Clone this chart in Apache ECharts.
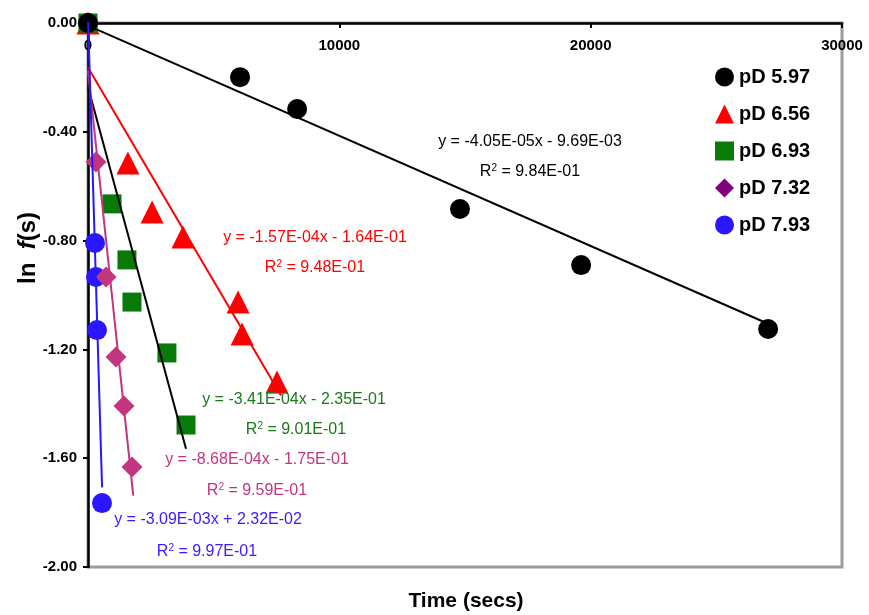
<!DOCTYPE html>
<html>
<head>
<meta charset="utf-8">
<script src="https://cdn.jsdelivr.net/npm/echarts@6/dist/echarts.min.js"></script>
<style>
  html, body { margin: 0; padding: 0; background: #fff; }
  #chart { width: 869px; height: 615px; }
</style>
</head>
<body>
<div id="chart"></div>
<script>
// Decay of ln f(s) over time at five pD values, with linear fits
const seriesNames = ['pD 5.97', 'pD 6.56', 'pD 6.93', 'pD 7.32', 'pD 7.93'];

// measured points [time (s), ln f(s)]
const pD597 = [[0, 0], [6050, -0.199], [8320, -0.316], [14800, -0.684], [19620, -0.890], [27060, -1.125]];
const pD656 = [[0, 0], [1590, -0.515], [2550, -0.695], [3780, -0.787], [5970, -1.026], [6130, -1.143], [7520, -1.320]];
const pD693 = [[0, 0], [955, -0.665], [1550, -0.871], [1750, -1.026], [3140, -1.213], [3900, -1.478]];
const pD732 = [[0, 0], [318, -0.511], [716, -0.934], [1114, -1.228], [1432, -1.408], [1751, -1.632]];
const pD793 = [[0, 0], [278, -0.809], [318, -0.934], [358, -1.129], [557, -1.765]];

// linear fits y = slope * x + intercept
const fitSlopes = [-4.05e-5, -1.57e-4, -3.41e-4, -8.68e-4, -3.09e-3];
const fitIntercepts = [-9.69e-3, -1.64e-1, -2.35e-1, -1.75e-1, 2.32e-2];
const fitR2 = [0.984, 0.948, 0.901, 0.959, 0.997];
const fitXEnd = [27400, 7680, 3900, 1800, 560];

// axis ticks
const xTicks = [0, 10000, 20000, 30000];
const yTicks = [-2.0, -1.6, -1.2, -0.8, -0.4, 0.0];

const pointSets = [pD597, pD656, pD693, pD732, pD793];
const markerColors = ['#000000', '#ff0000', '#087a08', '#c2357f', '#2a16ff'];
const legendColors = ['#000000', '#ff0000', '#087a08', '#800080', '#2a16ff'];
const fitColors = ['#000000', '#ff0000', '#000000', '#c2357f', '#2a16ff'];
const textColors = ['#000000', '#ff0000', '#1a7a1a', '#c2357f', '#3a1aff'];
const symbols = ['circle', 'triangle', 'rect', 'diamond', 'circle'];
const symbolSizes = [20, 23, 19, 21, 20];

// equation text anchors (pixel centres)
const eqPos = [[530, 142], [315, 238], [294, 400], [257, 460], [208, 520]];
const r2Pos = [[530, 172], [315, 268], [296, 430], [257, 491], [207, 552]];

const FONT = '"Liberation Sans", Arial, Helvetica, sans-serif';

function sci(v) {
  const s = Math.abs(v).toExponential(2);
  const [m, e] = s.split('e');
  const ev = parseInt(e, 10);
  const es = (ev < 0 ? '-' : '+') + String(Math.abs(ev)).padStart(2, '0');
  return m + 'E' + es;
}
function eqText(i) {
  const a = fitSlopes[i], b = fitIntercepts[i];
  return 'y = ' + (a < 0 ? '-' : '') + sci(a) + 'x ' + (b < 0 ? '- ' : '+ ') + sci(b);
}

const series = [];
// fitted lines
for (let i = 0; i < 5; i++) {
  const xs = [0, fitXEnd[i]];
  series.push({
    name: seriesNames[i] + ' fit',
    type: 'line',
    data: xs.map(x => [x, fitSlopes[i] * x + fitIntercepts[i]]),
    showSymbol: false,
    symbol: 'none',
    clip: true,
    lineStyle: { color: fitColors[i], width: 2 },
    z: 5,
    silent: true
  });
}
// data points: pD 5.97 drawn last, on top
const drawOrder = [4, 3, 1, 2, 0];
drawOrder.forEach((i, k) => {
  series.push({
    name: seriesNames[i],
    type: 'scatter',
    data: pointSets[i],
    symbol: symbols[i],
    symbolSize: symbolSizes[i],
    itemStyle: { color: markerColors[i], opacity: 1 },
    z: 2 + k * 0.1,
    clip: false
  });
});

const graphics = [];
for (let i = 0; i < 5; i++) {
  graphics.push({
    type: 'text',
    x: eqPos[i][0], y: eqPos[i][1],
    style: {
      text: eqText(i),
      fill: textColors[i],
      font: '16px ' + FONT,
      textAlign: 'center', textVerticalAlign: 'middle'
    },
    z: 20
  });
  graphics.push({
    type: 'text',
    x: r2Pos[i][0], y: r2Pos[i][1],
    style: {
      text: 'R{sup|2} = ' + sci(fitR2[i]),
      fill: textColors[i],
      font: '16px ' + FONT,
      textAlign: 'center', textVerticalAlign: 'middle',
      rich: {
        sup: { fontSize: 10, fill: textColors[i], verticalAlign: 'top', padding: [0, 0, 8, 0], fontFamily: FONT }
      }
    },
    z: 20
  });
}
// axis titles
graphics.push({
  type: 'text',
  x: 466, y: 601,
  style: {
    text: 'Time (secs)',
    fill: '#000',
    font: 'bold 21px ' + FONT,
    textAlign: 'center', textVerticalAlign: 'middle'
  }
});
graphics.push({
  type: 'text',
  x: 28, y: 248,
  rotation: Math.PI / 2,
  style: {
    text: 'ln  {it|f}(s)',
    fill: '#000',
    font: 'bold 24px ' + FONT,
    textAlign: 'center', textVerticalAlign: 'middle',
    rich: { it: { fontStyle: 'italic', fontWeight: 'bold', fontSize: 24, fontFamily: FONT, fill: '#000' } }
  }
});

const chart = echarts.init(document.getElementById('chart'), null, { renderer: 'canvas' });
chart.setOption({
  backgroundColor: '#fff',
  animation: false,
  grid: {
    left: 88, top: 23, width: 754, height: 544,
    show: true,
    borderColor: '#9c9c9c',
    borderWidth: 3,
    backgroundColor: 'transparent'
  },
  legend: {
    orient: 'vertical',
    left: 710,
    top: 62,
    itemWidth: 19,
    itemHeight: 19,
    itemGap: 17,
    textStyle: { fontFamily: FONT, fontWeight: 'bold', fontSize: 20, color: '#000' },
    data: seriesNames.map((n, i) => ({ name: n, icon: symbols[i], itemStyle: { color: legendColors[i] } }))
  },
  xAxis: {
    type: 'value',
    position: 'top',
    min: xTicks[0], max: xTicks[xTicks.length - 1], interval: 10000,
    splitLine: { show: false },
    axisLine: { show: true, onZero: false, lineStyle: { color: '#000', width: 2.5 } },
    axisTick: { show: true, inside: true, length: 5, lineStyle: { color: '#000', width: 2 } },
    axisLabel: {
      inside: true, margin: 15,
      fontFamily: FONT, fontWeight: 'bold', fontSize: 15, color: '#000',
      formatter: v => String(v)
    }
  },
  yAxis: {
    type: 'value',
    min: yTicks[0], max: yTicks[yTicks.length - 1], interval: 0.4,
    splitLine: { show: false },
    axisLine: { show: true, onZero: false, lineStyle: { color: '#000', width: 2.5 } },
    axisTick: { show: true, length: 5, lineStyle: { color: '#000', width: 2 } },
    axisLabel: {
      margin: 11,
      fontFamily: FONT, fontWeight: 'bold', fontSize: 15, color: '#000',
      formatter: v => v.toFixed(2)
    }
  },
  series: series,
  graphic: graphics
});
</script>
</body>
</html>
